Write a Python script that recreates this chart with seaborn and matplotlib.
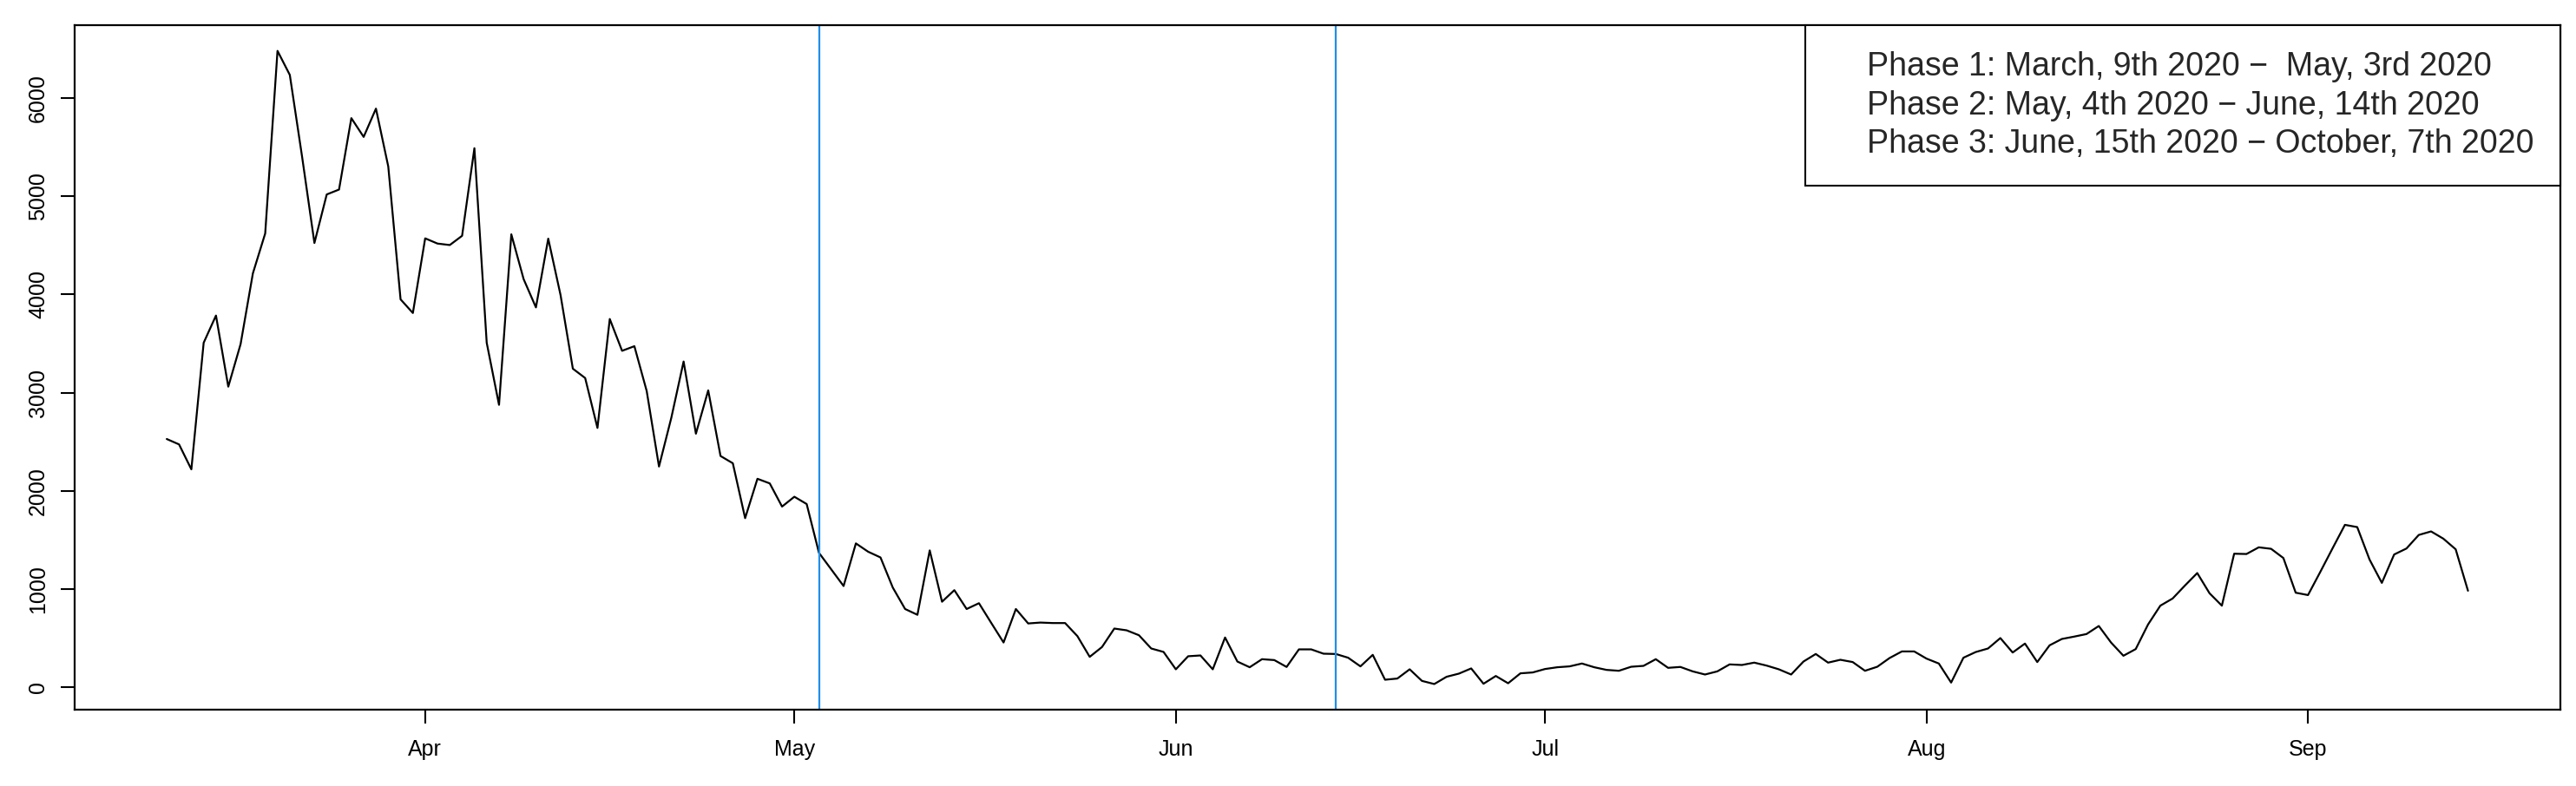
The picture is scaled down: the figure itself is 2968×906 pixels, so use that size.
import pandas as pd
import matplotlib
matplotlib.use('Agg')
import matplotlib.pyplot as plt
import matplotlib.dates as mdates
from matplotlib.lines import Line2D
import seaborn as sns

# Daily values, one per day from 2020-03-11 to 2020-09-14
start_date = '2020-03-11'
end_date = '2020-09-14'
daily_cases = [
    2528, 2473, 2219, 3508, 3785, 3061, 3494, 4215, 4621, 6480, 6235, 5400,
    4524, 5018, 5068, 5795, 5604, 5892, 5303, 3950, 3811, 4571, 4518, 4503,
    4597, 5489, 3508, 2876, 4612, 4156, 3868, 4568, 3994, 3244, 3149, 2641,
    3750, 3426, 3473, 3017, 2248, 2743, 3317, 2582, 3023, 2355, 2281, 1722,
    2123, 2076, 1840, 1940, 1866, 1369, 1200, 1031, 1465, 1380, 1322, 1015,
    797, 738, 1394, 871, 989, 797, 856, 655, 456, 797, 650, 659,
    654, 654, 521, 310, 410, 598, 580, 530, 395, 360, 183, 316,
    324, 183, 507, 262, 204, 286, 277, 207, 386, 386, 342, 339,
    301, 213, 330, 77, 89, 183, 65, 33, 107, 139, 192, 36,
    115, 41, 142, 151, 186, 204, 213, 242, 204, 177, 168, 209,
    218, 286, 198, 207, 162, 130, 162, 233, 227, 251, 221, 183,
    130, 262, 339, 251, 280, 257, 168, 209, 298, 365, 365, 292,
    242, 48, 301, 359, 395, 501, 354, 445, 257, 427, 492, 516,
    542, 624, 455, 321, 389, 639, 831, 904, 1036, 1163, 957, 831,
    1360, 1357, 1425, 1410, 1316, 963, 939, 1175, 1416, 1654, 1631, 1301,
    1063, 1352, 1413, 1551, 1587, 1513, 1405, 983,
]

# last day of phase 1 and phase 2
phase_ends = ['2020-05-03', '2020-06-14']
phase_labels = [
    'Phase 1: March, 9th 2020 \u2212  May, 3rd 2020',
    'Phase 2: May, 4th 2020 \u2212 June, 14th 2020',
    'Phase 3: June, 15th 2020 \u2212 October, 7th 2020',
]
y_ticks = [0, 1000, 2000, 3000, 4000, 5000, 6000]

dates = pd.date_range(start_date, end_date, freq='D')
df = pd.DataFrame({'date': dates, 'cases': daily_cases})

sns.set_style('white')
plt.rcParams['font.family'] = ['Liberation Sans', 'DejaVu Sans']

fig = plt.figure(figsize=(29.68, 9.06), dpi=100)
ax = fig.add_axes([0.029, 0.0975, 0.9648, 0.870])

sns.lineplot(data=df, x='date', y='cases', color='black', linewidth=1.6, ax=ax)

for d in phase_ends:
    ax.axvline(pd.Timestamp(d), color='#1E8FE8', linewidth=1.6)

# R style 4% padding on both axes
xn = mdates.date2num(df['date'])
xr = xn.max() - xn.min()
ax.set_xlim(xn.min() - 0.04 * xr, xn.max() + 0.04 * xr)
ymin, ymax = min(daily_cases), max(daily_cases)
yr = ymax - ymin
ax.set_ylim(ymin - 0.04 * yr, ymax + 0.04 * yr)

ax.xaxis.set_major_locator(mdates.MonthLocator())
ax.xaxis.set_major_formatter(mdates.DateFormatter('%b'))
ax.set_yticks(y_ticks)
ax.set_xlabel('')
ax.set_ylabel('')

ax.tick_params(axis='both', direction='out', length=11.5, width=1.5,
               color='black', labelsize=18, labelcolor='black',
               bottom=True, left=True)
ax.tick_params(axis='x', pad=13)
ax.tick_params(axis='y', pad=10)
plt.setp(ax.get_yticklabels(), rotation=90, va='center', ha='right')

for s in ax.spines.values():
    s.set_visible(True)
    s.set_color('black')
    s.set_linewidth(1.6)

handles = [Line2D([], [], linestyle='none') for _ in phase_labels]
leg = ax.legend(handles, phase_labels, loc='upper right', bbox_to_anchor=(1, 1),
                borderaxespad=0, frameon=True, fancybox=False, framealpha=1,
                edgecolor='black', fontsize=27, handlelength=0.83,
                handletextpad=0.28, borderpad=0.79, labelspacing=0.23)
leg.get_frame().set_linewidth(1.5)

fig.savefig('out.png', dpi=100)
